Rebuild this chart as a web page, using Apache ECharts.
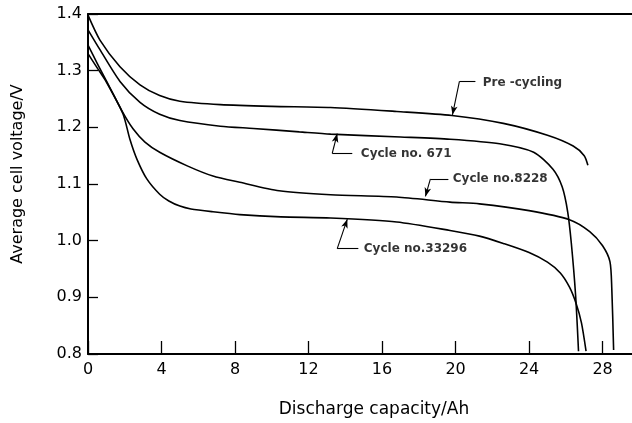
<!DOCTYPE html>
<html>
<head>
<meta charset="utf-8">
<script src="https://cdn.jsdelivr.net/npm/echarts@6/dist/echarts.min.js"></script>
<style>
  html, body { margin: 0; padding: 0; background: #fff; }
  #chart { width: 632px; height: 423px; }
</style>
</head>
<body>
<div id="chart"></div>
<script>
// Discharge curves: capacity (Ah) and average cell voltage (V)
const preCyclingCapacity = [0, 0.65, 1.74, 2.83, 3.9, 5.0, 7.2, 10.0, 13.2, 16.8, 19.8, 22.6, 25.0, 26.4, 27.0, 27.2];
const preCyclingVoltage  = [1.398, 1.354, 1.307, 1.275, 1.256, 1.246, 1.240, 1.237, 1.235, 1.228, 1.221, 1.207, 1.186, 1.167, 1.150, 1.133];

const cycle671Capacity = [0, 0.65, 1.74, 2.83, 3.9, 5.0, 7.2, 9.0, 11.5, 13.2, 17.0, 19.7, 22.4, 24.25, 25.3, 25.8, 26.1, 26.3, 26.53, 26.69];
const cycle671Voltage  = [1.372, 1.337, 1.281, 1.244, 1.223, 1.212, 1.202, 1.198, 1.192, 1.188, 1.183, 1.179, 1.171, 1.156, 1.126, 1.095, 1.051, 0.995, 0.904, 0.805];

const cycle8228Capacity = [0, 0.5, 1.0, 1.9, 2.46, 3.1, 3.9, 5.4, 6.8, 8.26, 10.4, 13.2, 16.8, 19.7, 21.3, 24.0, 26.2, 27.3, 28.0, 28.4, 28.5, 28.6];
const cycle8228Voltage  = [1.345, 1.313, 1.282, 1.226, 1.197, 1.174, 1.156, 1.132, 1.114, 1.103, 1.088, 1.081, 1.077, 1.068, 1.065, 1.053, 1.037, 1.016, 0.991, 0.963, 0.916, 0.807];

const cycle33296Capacity = [0, 0.5, 1.0, 1.9, 2.28, 2.66, 3.2, 3.9, 4.4, 5.0, 5.6, 6.8, 8.26, 10.5, 13.2, 16.8, 19.7, 21.3, 22.6, 24.0, 25.0, 25.7, 26.2, 26.55, 26.85, 27.1];
const cycle33296Voltage  = [1.330, 1.305, 1.280, 1.224, 1.179, 1.144, 1.109, 1.082, 1.070, 1.061, 1.056, 1.051, 1.046, 1.042, 1.040, 1.033, 1.018, 1.008, 0.995, 0.979, 0.962, 0.943, 0.918, 0.890, 0.855, 0.805];

// Axis ticks
const capacityTicks = [0, 4, 8, 12, 16, 20, 24, 28];

// Curve labels: text, label anchor, leader elbow, leader end and arrow tip (data units)
const labelTexts   = ['Pre -cycling', 'Cycle no. 671', 'Cycle no.8228', 'Cycle no.33296'];
const labelAnchors = [[21.45, 1.279], [14.82, 1.153], [19.82, 1.109], [14.98, 0.986]];
const leaderStarts = [[21.08, 1.281], [14.38, 1.154], [19.61, 1.109], [14.71, 0.986]];
const leaderElbows = [[20.21, 1.281], [13.29, 1.154], [18.63, 1.109], [13.56, 0.986]];
const arrowTips    = [[19.83, 1.222], [13.56, 1.189], [18.36, 1.078], [14.11, 1.038]];

const zip = (xs, ys) => xs.map((x, i) => [x, ys[i]]);

const curves = [
  zip(preCyclingCapacity, preCyclingVoltage),
  zip(cycle671Capacity, cycle671Voltage),
  zip(cycle8228Capacity, cycle8228Voltage),
  zip(cycle33296Capacity, cycle33296Voltage)
];

const font = 'DejaVu Sans';
const ink = '#000';

const curveSeries = curves.map((pts, i) => ({
  type: 'line',
  name: labelTexts[i],
  data: pts,
  showSymbol: false,
  smooth: 0.25,
  lineStyle: { color: ink, width: 1.6 },
  silent: true,
  markLine: {
    silent: true,
    animation: false,
    label: { show: false },
    lineStyle: { color: ink, width: 1.1, type: 'solid' },
    symbol: ['none', 'none'],
    data: [
      [{ coord: leaderStarts[i], symbol: 'none' }, { coord: leaderElbows[i], symbol: 'none' }],
      [{ coord: leaderElbows[i], symbol: 'none' }, { coord: arrowTips[i], symbol: 'arrow', symbolSize: [5, 9] }]
    ]
  }
}));

const labelSeries = {
  type: 'scatter',
  data: labelAnchors.map((p, i) => ({ value: p, name: labelTexts[i] })),
  symbolSize: 1,
  itemStyle: { color: 'rgba(0,0,0,0)' },
  silent: true,
  label: {
    show: true,
    position: 'right',
    distance: 0,
    formatter: p => p.name,
    color: ink,
    fontFamily: font,
    fontWeight: 'bold',
    fontSize: 12
  }
};

const chart = echarts.init(document.getElementById('chart'), null, { renderer: 'canvas' });
chart.setOption({
  animation: false,
  backgroundColor: '#fff',
  grid: { left: 88, right: 0, top: 14, bottom: 67 },
  xAxis: [
    {
      type: 'value',
      min: 0,
      max: 29.6,
      position: 'bottom',
      name: 'Discharge capacity/Ah',
      nameLocation: 'middle',
      nameGap: 47,
      nameTextStyle: { color: ink, fontFamily: font, fontSize: 17, padding: [0, 0, 0, 28] },
      axisLine: { show: true, lineStyle: { color: ink, width: 2 } },
      axisTick: { show: true, inside: true, length: 13, customValues: capacityTicks, lineStyle: { color: ink, width: 1.3 } },
      axisLabel: { customValues: capacityTicks, color: ink, fontFamily: font, fontSize: 16, margin: 8 },
      splitLine: { show: false }
    },
    {
      type: 'value',
      min: 0,
      max: 29.6,
      position: 'top',
      axisLine: { show: true, lineStyle: { color: ink, width: 2 } },
      axisTick: { show: false },
      axisLabel: { show: false },
      splitLine: { show: false }
    }
  ],
  yAxis: {
    type: 'value',
    min: 0.8,
    max: 1.4,
    interval: 0.1,
    name: 'Average cell voltage/V',
    nameLocation: 'middle',
    nameGap: 62,
    nameTextStyle: { color: ink, fontFamily: font, fontSize: 16, padding: [0, 0, 0, 20] },
    axisLine: { show: true, lineStyle: { color: ink, width: 2 } },
    axisTick: { show: true, inside: true, length: 10, lineStyle: { color: ink, width: 1.3 } },
    axisLabel: { color: ink, fontFamily: font, fontSize: 16, margin: 6, formatter: v => v.toFixed(1) },
    splitLine: { show: false }
  },
  series: [...curveSeries, labelSeries]
});
</script>
</body>
</html>
